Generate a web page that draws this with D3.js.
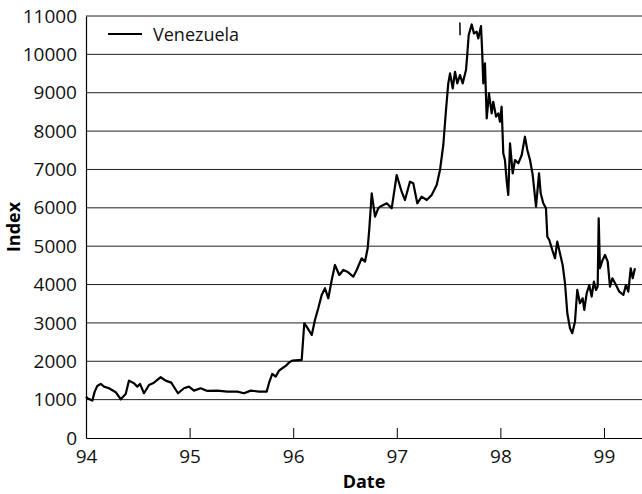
<!DOCTYPE html>
<html>
<head>
<meta charset="utf-8">
<script src="https://cdn.jsdelivr.net/npm/d3@7"></script>
<style>
  body { margin: 0; background: #fff; }
  svg { display: block; font-family: "Open Sans", sans-serif; }
</style>
</head>
<body>
<svg id="graph" width="642" height="494"></svg>
<script>
// decimal years (94 = Jan 1994) and the index level
const years = [
  94.000, 94.013, 94.061, 94.084, 94.109, 94.142, 94.174, 94.222, 94.287, 94.335,
  94.383, 94.415, 94.463, 94.495, 94.521, 94.560, 94.608, 94.656, 94.721, 94.769,
  94.823, 94.888, 94.946, 94.994, 95.042, 95.107, 95.171, 95.267, 95.364, 95.460,
  95.525, 95.590, 95.670, 95.744, 95.766, 95.798, 95.831, 95.863, 95.895, 95.928,
  95.959, 95.991, 96.082, 96.107, 96.130, 96.179, 96.210, 96.242, 96.275, 96.307,
  96.339, 96.372, 96.403, 96.445, 96.484, 96.522, 96.580, 96.613, 96.661, 96.693,
  96.719, 96.735, 96.758, 96.790, 96.821, 96.838, 96.903, 96.951, 96.999, 97.047,
  97.079, 97.127, 97.159, 97.198, 97.240, 97.289, 97.337, 97.385, 97.417, 97.449,
  97.475, 97.497, 97.514, 97.540, 97.562, 97.584, 97.610, 97.636, 97.668, 97.680,
  97.694, 97.723, 97.745, 97.771, 97.787, 97.813, 97.825, 97.835, 97.851, 97.868,
  97.890, 97.916, 97.931, 97.958, 97.980, 97.996, 98.012, 98.028, 98.044, 98.060,
  98.076, 98.093, 98.119, 98.141, 98.173, 98.206, 98.237, 98.260, 98.286, 98.312,
  98.344, 98.373, 98.389, 98.414, 98.440, 98.453, 98.472, 98.501, 98.527, 98.549,
  98.575, 98.601, 98.624, 98.646, 98.672, 98.694, 98.720, 98.742, 98.768, 98.794,
  98.810, 98.833, 98.858, 98.881, 98.903, 98.923, 98.939, 98.949, 98.961, 98.987,
  99.010, 99.036, 99.058, 99.081, 99.116, 99.148, 99.187, 99.212, 99.235, 99.258,
  99.277, 99.299
];
const venezuela = [
  1080, 1037, 975, 1209, 1357, 1410, 1339, 1297, 1193, 1010,
  1149, 1496, 1428, 1339, 1410, 1167, 1383, 1443, 1584, 1496,
  1443, 1167, 1297, 1339, 1235, 1297, 1227, 1235, 1209, 1209,
  1167, 1235, 1209, 1209, 1428, 1670, 1600, 1756, 1818, 1878,
  1965, 2017, 2035, 2991, 2903, 2686, 3077, 3382, 3729, 3903,
  3642, 4119, 4510, 4250, 4380, 4336, 4205, 4380, 4685, 4596,
  4945, 5466, 6378, 5769, 5987, 6029, 6118, 5987, 6855, 6420,
  6204, 6681, 6638, 6118, 6290, 6204, 6334, 6594, 6985, 7637,
  8549, 9244, 9505, 9114, 9547, 9244, 9460, 9244, 9591, 9982,
  10503, 10780, 10547, 10589, 10417, 10737, 10026, 9244, 9766, 8332,
  8984, 8463, 8765, 8376, 8463, 8244, 8635, 7420, 7246, 6725,
  6334, 7681, 6899, 7246, 7160, 7376, 7853, 7506, 7246, 6855,
  6029, 6899, 6378, 6118, 5987, 5248, 5162, 4901, 4685, 5117,
  4815, 4510, 4033, 3251, 2861, 2731, 3033, 3859, 3512, 3642,
  3338, 3773, 3989, 3685, 4075, 3859, 3946, 5727, 4424, 4641,
  4771, 4596, 3946, 4164, 3989, 3815, 3729, 3989, 3815, 4424,
  4164, 4424
];
// short stray segment drawn apart from the main line
const strayYears = [97.609, 97.611];
const strayValues = [10830, 10500];

const xTicks = [94, 95, 96, 97, 98, 99];
const xTickLabels = ["94", "95", "96", "97", "98", "99"];
const yTicks = [0, 1000, 2000, 3000, 4000, 5000, 6000, 7000, 8000, 9000, 10000, 11000];
const seriesName = "Venezuela";

const svg = d3.select("#graph");
const WIDTH = 642;
const HEIGHT = 494;
const MARGINS = { top: 16, right: 0, bottom: 56, left: 86 };

const x = d3.scaleLinear()
  .domain([94, 99.367])
  .range([MARGINS.left, WIDTH - MARGINS.right]);
const y = d3.scaleLinear()
  .domain([0, 11000])
  .range([HEIGHT - MARGINS.bottom, MARGINS.top]);

// horizontal grid
svg.append("g")
  .selectAll("line")
  .data(yTicks.filter(d => d > 0))
  .join("line")
  .attr("x1", MARGINS.left)
  .attr("x2", WIDTH)
  .attr("y1", d => y(d))
  .attr("y2", d => y(d))
  .attr("stroke", "#222")
  .attr("stroke-width", 1);

const yAxis = d3.axisLeft(y)
  .tickValues(yTicks)
  .tickFormat(d3.format("d"))
  .tickSize(0)
  .tickPadding(9);
const yG = svg.append("g")
  .attr("transform", `translate(${MARGINS.left},0)`)
  .call(yAxis);
yG.select(".domain").attr("stroke", "#000").attr("stroke-width", 1.2);
yG.selectAll("text").attr("font-size", 19).attr("fill", "#111").attr("font-family", "Open Sans");

const xAxis = d3.axisBottom(x)
  .tickValues(xTicks)
  .tickFormat((d, i) => xTickLabels[i])
  .tickSizeInner(-10)
  .tickSizeOuter(0)
  .tickPadding(12);
const xG = svg.append("g")
  .attr("transform", `translate(0,${HEIGHT - MARGINS.bottom})`)
  .call(xAxis);
xG.select(".domain").attr("stroke", "#000").attr("stroke-width", 1.2);
xG.selectAll(".tick line").attr("stroke", "#000");
xG.selectAll("text").attr("font-size", 19).attr("fill", "#111").attr("font-family", "Open Sans");

const line = d3.line()
  .x(d => x(d[0]))
  .y(d => y(d[1]));

svg.append("path")
  .attr("d", line(years.map((t, i) => [t, venezuela[i]])))
  .attr("fill", "none")
  .attr("stroke", "#000")
  .attr("stroke-width", 2.2)
  .attr("stroke-linejoin", "round");

svg.append("path")
  .attr("d", line(strayYears.map((t, i) => [t, strayValues[i]])))
  .attr("fill", "none")
  .attr("stroke", "#000")
  .attr("stroke-width", 1.5);

// legend
svg.append("line")
  .attr("x1", 108).attr("x2", 142)
  .attr("y1", 34).attr("y2", 34)
  .attr("stroke", "#000").attr("stroke-width", 2);
svg.append("text")
  .attr("x", 153).attr("y", 41)
  .attr("font-size", 18)
  .attr("fill", "#111")
  .text(seriesName);

// axis titles
svg.append("text")
  .attr("x", (MARGINS.left + WIDTH) / 2)
  .attr("y", 488)
  .attr("text-anchor", "middle")
  .attr("font-size", 18)
  .attr("font-weight", "bold")
  .text("Date");
svg.append("text")
  .attr("transform", `translate(20,${(MARGINS.top + HEIGHT - MARGINS.bottom) / 2}) rotate(-90)`)
  .attr("text-anchor", "middle")
  .attr("font-size", 18)
  .attr("font-weight", "bold")
  .text("Index");
</script>
</body>
</html>
